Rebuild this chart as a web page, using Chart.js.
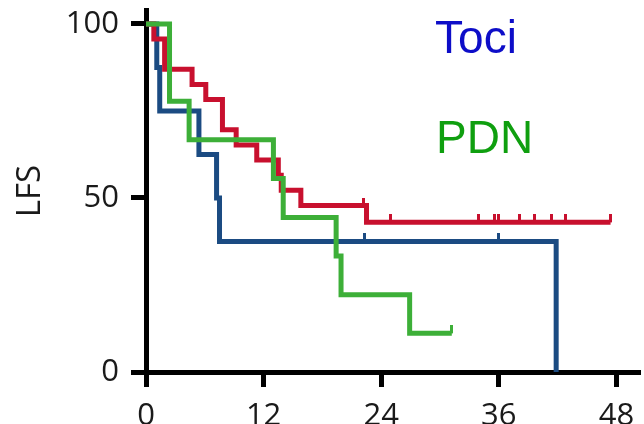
<!DOCTYPE html>
<html>
<head>
<meta charset="utf-8">
<script src="https://cdn.jsdelivr.net/npm/chart.js@4/dist/chart.umd.min.js"></script>
<style>
  html, body { margin: 0; padding: 0; background: #fff; overflow: hidden; }
  #wrap { position: absolute; left: 0; top: 0; width: 644px; height: 460px; }
</style>
</head>
<body>
<div id="wrap"><canvas id="km"></canvas></div>
<script>
// tick labels
const xTicks = [0, 12, 24, 36, 48];
const yTicks = [0, 50, 100];

// red arm (unlabelled)
const redTime = [0, 0.8, 1.9, 4.7, 6.1, 7.8, 9.2, 11.3, 13.5, 13.8, 15.8, 22.5, 47.4];
const redLFS = [100, 95.7, 87.0, 82.6, 78.3, 69.6, 65.2, 60.9, 56.5, 52.2, 47.8, 43.0, 43.0];
const redCensTime = [22.2, 24.9, 33.9, 35.6, 36.0, 38.1, 39.6, 41.4, 42.8, 47.4];
const redCensLFS = [47.8, 43.0, 43.0, 43.0, 43.0, 43.0, 43.0, 43.0, 43.0, 43.0];

// Toci (blue)
const tociTime = [0, 1.1, 1.4, 5.4, 7.2, 7.5, 41.85];
const tociLFS = [100, 87.5, 75.0, 62.5, 50.0, 37.5, 0];
const tociCensTime = [22.3, 36.0];
const tociCensLFS = [37.5, 37.5];

// PDN (green)
const pdnTime = [0, 2.4, 4.4, 13.0, 14.0, 19.4, 19.9, 26.9, 31.2];
const pdnLFS = [100, 77.8, 66.7, 55.6, 44.4, 33.3, 22.2, 11.1, 11.1];
const pdnCensTime = [31.2];
const pdnCensLFS = [11.1];

const RED = "#c8102e", BLUE = "#1b4b82", GREEN = "#3daf38";

const toXY = (xs, ys) => xs.map((x, i) => ({ x: x, y: ys[i] }));

// little upward tick for censored patients
function censorMark(color) {
  const c = document.createElement("canvas");
  c.width = 3;
  c.height = 16;
  const g = c.getContext("2d");
  g.fillStyle = color;
  g.fillRect(0, 0, 3, 8);
  return c;
}

function curve(label, xs, ys, color, order) {
  return {
    type: "line",
    label: label,
    data: toXY(xs, ys),
    borderColor: color,
    borderWidth: 5,
    stepped: "before",
    pointRadius: 0,
    fill: false,
    order: order,
  };
}

function censors(label, xs, ys, color, order) {
  return {
    type: "scatter",
    label: label,
    data: toXY(xs, ys),
    pointStyle: censorMark(color),
    pointRadius: 5,
    order: order,
  };
}

const armLabels = {
  id: "armLabels",
  afterDraw(chart) {
    const { ctx, scales } = chart;
    ctx.save();
    ctx.font = "46px 'Liberation Sans', Arial, sans-serif";
    ctx.textBaseline = "alphabetic";
    ctx.fillStyle = "#0d0dc8";
    ctx.fillText("Toci", scales.x.getPixelForValue(29.5), scales.y.getPixelForValue(91.7));
    ctx.fillStyle = "#0f9f0f";
    ctx.fillText("PDN", scales.x.getPixelForValue(29.6), scales.y.getPixelForValue(62.9));
    ctx.restore();
  },
};

const axisFont = { family: "'Open Sans', sans-serif", size: 31 };

new Chart(document.getElementById("km"), {
  data: {
    datasets: [
      curve("PDN", pdnTime, pdnLFS, GREEN, 1),
      censors("PDN censored", pdnCensTime, pdnCensLFS, GREEN, 1),
      curve("Red", redTime, redLFS, RED, 2),
      censors("Red censored", redCensTime, redCensLFS, RED, 2),
      curve("Toci", tociTime, tociLFS, BLUE, 3),
      censors("Toci censored", tociCensTime, tociCensLFS, BLUE, 3),
    ],
  },
  options: {
    responsive: true,
    maintainAspectRatio: false,
    animation: false,
    devicePixelRatio: 1,
    layout: { padding: { top: 10, right: 0, left: 0, bottom: 0 } },
    plugins: {
      legend: { display: false },
      tooltip: { enabled: false },
    },
    scales: {
      x: {
        type: "linear",
        min: 0,
        max: 50.2,
        afterBuildTicks: (s) => { s.ticks = xTicks.map((v) => ({ value: v })); },
        afterFit: (s) => { s.height = 88; s.paddingLeft = 0; s.paddingRight = 0; },
        border: { display: true, color: "#000", width: 5 },
        grid: { display: true, drawOnChartArea: false, drawTicks: true, tickLength: 15, color: "#000", lineWidth: 5 },
        ticks: { color: "#1a1a1a", font: axisFont, padding: 11, maxRotation: 0 },
      },
      y: {
        type: "linear",
        min: 0,
        max: 104,
        afterBuildTicks: (s) => { s.ticks = yTicks.map((v) => ({ value: v })); },
        afterFit: (s) => { s.width = 146; s.paddingTop = 0; s.paddingBottom = 0; },
        border: { display: true, color: "#000", width: 5 },
        grid: { display: true, drawOnChartArea: false, drawTicks: true, tickLength: 15, color: "#000", lineWidth: 5 },
        ticks: { color: "#1a1a1a", font: axisFont, padding: 12 },
        title: {
          display: true,
          text: "LFS",
          color: "#1a1a1a",
          font: { family: "'Open Sans', sans-serif", size: 33 },
          padding: { top: 11, bottom: 0 },
        },
      },
    },
  },
  plugins: [armLabels],
});
</script>
</body>
</html>
